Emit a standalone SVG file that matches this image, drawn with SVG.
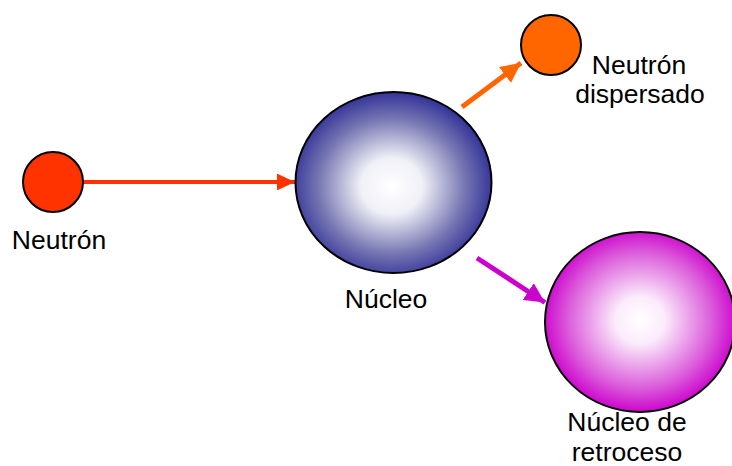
<svg xmlns="http://www.w3.org/2000/svg" width="732" height="466" viewBox="0 0 732 466">
  <style>
    .lbl { font-family: "Liberation Sans", Arial, sans-serif; font-size: 26.5px; fill: #000; text-anchor: middle; }
    .edge { stroke: #000; stroke-width: 2; }
  </style>
  <defs>
    <radialGradient id="gNucleus" cx="0.49" cy="0.52" r="0.52">
      <stop offset="0" stop-color="#ffffff"/>
      <stop offset="0.3" stop-color="#f0f0f7"/>
      <stop offset="0.72" stop-color="#7676b2"/>
      <stop offset="1" stop-color="#333399"/>
    </radialGradient>
    <radialGradient id="gRecoil" cx="0.5" cy="0.49" r="0.52">
      <stop offset="0" stop-color="#ffffff"/>
      <stop offset="0.25" stop-color="#fbecfb"/>
      <stop offset="0.72" stop-color="#db5fdb"/>
      <stop offset="1" stop-color="#cc00cc"/>
    </radialGradient>
    <marker id="hRed" viewBox="0 0 10 10" refX="10" refY="5" markerWidth="4.5" markerHeight="4.2" orient="auto" markerUnits="strokeWidth" preserveAspectRatio="none">
      <path d="M0,0 L10,5 L0,10 Z" fill="#ff3300"/>
    </marker>
    <marker id="hOrange" viewBox="0 0 10 10" refX="10" refY="5" markerWidth="4" markerHeight="4" orient="auto" markerUnits="strokeWidth">
      <path d="M0,0 L10,5 L0,10 Z" fill="#ff6600"/>
    </marker>
    <marker id="hMagenta" viewBox="0 0 10 10" refX="10" refY="5" markerWidth="4" markerHeight="4" orient="auto" markerUnits="strokeWidth">
      <path d="M0,0 L10,5 L0,10 Z" fill="#cc00cc"/>
    </marker>
  </defs>

  <g id="connectors" fill="none">
    <line x1="83" y1="182" x2="295" y2="182" stroke="#ff3300" stroke-width="4" marker-end="url(#hRed)"/>
    <line x1="462" y1="107" x2="521" y2="63" stroke="#ff6600" stroke-width="5" marker-end="url(#hOrange)"/>
    <line x1="477" y1="258" x2="545" y2="302.5" stroke="#cc00cc" stroke-width="5" marker-end="url(#hMagenta)"/>
  </g>

  <g id="neutron">
    <circle cx="53" cy="182" r="30" fill="#ff3300" class="edge"/>
    <text x="59" y="249" class="lbl">Neutrón</text>
  </g>

  <g id="nucleus">
    <ellipse cx="393.5" cy="182.5" rx="98" ry="90.5" fill="url(#gNucleus)" class="edge"/>
    <text x="386" y="308" class="lbl">Núcleo</text>
  </g>

  <g id="scattered-neutron">
    <circle cx="551" cy="45" r="30" fill="#ff6600" class="edge"/>
    <text x="639" y="74" class="lbl">Neutrón</text>
    <text x="640" y="103" class="lbl">dispersado</text>
  </g>

  <g id="recoil-nucleus">
    <ellipse cx="640" cy="322" rx="95" ry="90" fill="url(#gRecoil)" class="edge"/>
    <text x="627" y="431" class="lbl">Núcleo de</text>
    <text x="627" y="461" class="lbl">retroceso</text>
  </g>
</svg>
